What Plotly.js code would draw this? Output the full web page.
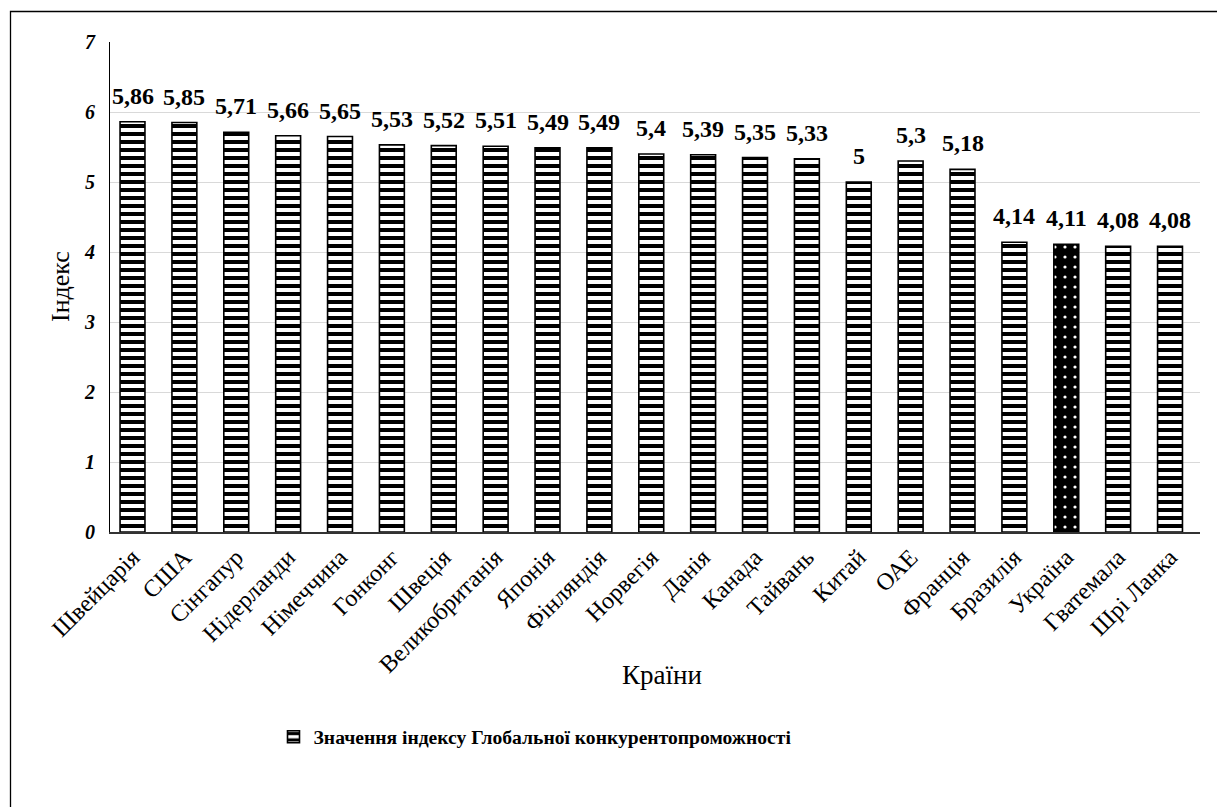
<!DOCTYPE html>
<html>
<head>
<meta charset="utf-8">
<script src="https://cdn.plot.ly/plotly-3.0.1.min.js"></script>
<style>
  html, body { margin: 0; padding: 0; background: #fff; }
  #chart { width: 1217px; height: 807px; }
</style>
</head>
<body>
<div id="chart"></div>
<script>
const countries = ["Швейцарія", "США", "Сінгапур", "Нідерланди", "Німеччина", "Гонконг", "Швеція",
  "Великобританія", "Японія", "Фінляндія", "Норвегія", "Данія", "Канада", "Тайвань", "Китай",
  "ОАЕ", "Франція", "Бразилія", "Україна", "Гватемала", "Шрі Ланка"];
const indexValues = [5.86, 5.85, 5.71, 5.66, 5.65, 5.53, 5.52, 5.51, 5.49, 5.49, 5.4, 5.39, 5.35,
  5.33, 5, 5.3, 5.18, 4.14, 4.11, 4.08, 4.08];
const yTicks = [0, 1, 2, 3, 4, 5, 6, 7];
const seriesName = "Значення індексу Глобальної конкурентопроможності";
const highlighted = "Україна";

const serif = "'Liberation Serif', 'Times New Roman', serif";
const labels = indexValues.map(v => String(v).replace('.', ','));
const isHi = countries.map(c => c === highlighted);

const mainTrace = {
  type: 'bar',
  x: countries,
  y: indexValues.map((v, i) => isHi[i] ? null : v),
  name: seriesName,
  marker: {
    color: '#fff',
    line: { color: '#000', width: 1.6 },
    pattern: { shape: '-', fgcolor: '#000', bgcolor: '#fff', size: 8, solidity: 0.5, fillmode: 'replace' }
  },
  hoverinfo: 'x+y'
};

const hiTrace = {
  type: 'bar',
  x: countries,
  y: indexValues.map((v, i) => isHi[i] ? v : null),
  name: seriesName,
  showlegend: false,
  marker: {
    color: '#000',
    line: { color: '#000', width: 1.6 },
    pattern: { shape: '.', fgcolor: '#fff', bgcolor: '#000', size: 10, solidity: 0.08, fillmode: 'replace' }
  },
  hoverinfo: 'x+y'
};

const L = 110, R = 1200, T = 42, B = 532;
const pw = R - L, ph = B - T;
const px = v => (v - L) / pw;
const py = v => (B - v) / ph;

const valueAnnotations = countries.map((c, i) => ({
  x: c, y: indexValues[i], xref: 'x', yref: 'y',
  text: labels[i], showarrow: false,
  xanchor: 'center', yanchor: 'bottom', yshift: 11,
  font: { family: serif, size: 24, weight: 'bold', color: '#000' }
}));

const layout = {
  width: 1217,
  height: 807,
  margin: { l: L, r: 1217 - R, t: T, b: 807 - B, pad: 0 },
  paper_bgcolor: '#fff',
  plot_bgcolor: '#fff',
  separators: ', ',
  barmode: 'overlay',
  bargap: 0.52,
  font: { family: serif, color: '#000' },
  showlegend: true,
  legend: {
    orientation: 'h',
    x: px(535), xanchor: 'center',
    y: py(737), yanchor: 'middle',
    font: { family: serif, size: 19.6, weight: 'bold', color: '#000' },
    itemwidth: 30
  },
  xaxis: {
    type: 'category',
    range: [-0.434, 20.578],
    tickangle: -45,
    tickfont: { family: serif, size: 24, color: '#000' },
    showline: true,
    linecolor: '#333',
    linewidth: 1.5,
    ticks: '',
    automargin: false,
    title: { text: '' }
  },
  yaxis: {
    range: [0, 7],
    tickvals: yTicks,
    ticktext: yTicks.map(String),
    tickfont: { family: serif, size: 20, weight: 'bold', style: 'italic', color: '#000' },
    showline: true,
    linecolor: '#000',
    linewidth: 1.2,
    gridcolor: '#d9d9d9',
    gridwidth: 1.3,
    zeroline: false,
    ticks: 'outside',
    ticklen: 10,
    tickcolor: 'rgba(0,0,0,0)',
    automargin: false,
    title: { text: '' }
  },
  annotations: valueAnnotations.concat([
    { xref: 'paper', yref: 'paper', x: px(60), y: py(287), text: 'Індекс', textangle: -90,
      showarrow: false, font: { family: serif, size: 26, color: '#000' }, xanchor: 'center', yanchor: 'middle' },
    { xref: 'paper', yref: 'paper', x: px(662), y: py(675), text: 'Країни',
      showarrow: false, font: { family: serif, size: 27, color: '#000' }, xanchor: 'center', yanchor: 'middle' }
  ]),
  shapes: [
    { type: 'rect', xref: 'paper', yref: 'paper', x0: px(10.5), x1: px(1260), y0: py(830), y1: py(11.5),
      line: { color: '#000', width: 1.3 }, fillcolor: 'rgba(0,0,0,0)', layer: 'below' }
  ]
};

Plotly.newPlot('chart', [mainTrace, hiTrace], layout, { displayModeBar: false, responsive: false });
</script>
</body>
</html>
